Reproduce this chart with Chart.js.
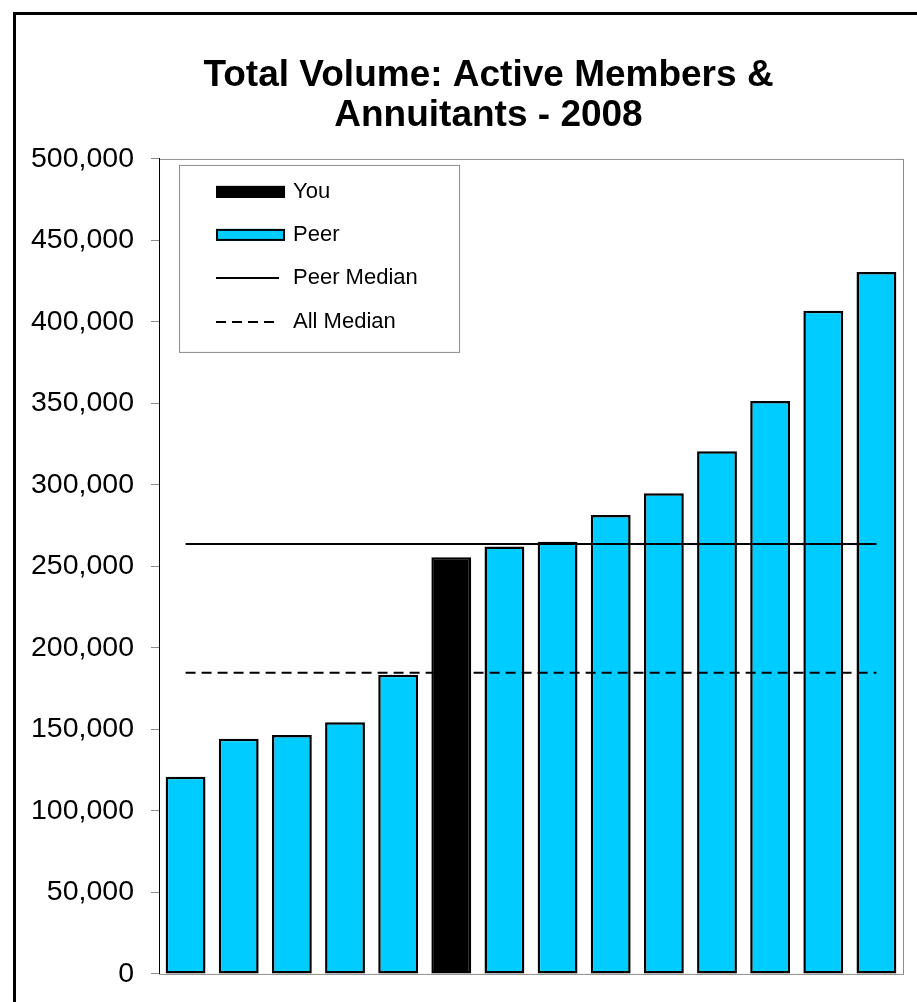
<!DOCTYPE html>
<html>
<head>
<meta charset="utf-8">
<script src="https://cdn.jsdelivr.net/npm/chart.js@4.4.1/dist/chart.umd.min.js"></script>
<style>
  html, body { margin: 0; padding: 0; background: #fff; overflow: hidden; }
  #wrap { position: relative; width: 917px; height: 1002px; overflow: hidden; }
  #chart { position: absolute; left: 0; top: 0; }
  #frame {
    position: absolute; left: 13px; top: 12px; width: 2000px; height: 2000px;
    border-left: 3px solid #000; border-top: 3px solid #000; pointer-events: none;
  }
</style>
</head>
<body>
<div id="wrap">
  <canvas id="chart" width="963" height="1008"></canvas>
  <div id="frame"></div>
</div>
<script>
const titleLines = ["Total Volume: Active Members &", "Annuitants - 2008"]
const categories = ["1", "2", "3", "4", "5", "6", "7", "8", "9", "10", "11", "12", "13", "14"]
const volumes = [121000, 144200, 146600, 154400, 183600, 255600, 262200, 265200, 281600, 294900, 320700, 351500, 406900, 430700]
const youIndex = 5
const peerMedian = 263800
const allMedian = 184700
const yTicks = [0, 50000, 100000, 150000, 200000, 250000, 300000, 350000, 400000, 450000, 500000]

const FONT = "'Liberation Sans', Arial, sans-serif"
const CYAN = '#00CCFF'

const youData = volumes.map((v, i) => i === youIndex ? v : null)
const peerData = volumes.map((v, i) => i === youIndex ? null : v)
const first = categories[0]
const last = categories[categories.length - 1]

// gray box round the plot area (top/right/bottom), axis drawn over it on the left
const plotFrame = {
  id: 'plotFrame',
  beforeDraw(chart) {
    const { ctx, chartArea: a } = chart
    ctx.save()
    ctx.strokeStyle = '#8c8c8c'
    ctx.lineWidth = 1
    ctx.strokeRect(a.left + 0.5, a.top + 0.5, a.right - a.left, a.bottom - a.top)
    ctx.restore()
  }
}

// legend box inside the plot, top-left
const boxLegend = {
  id: 'boxLegend',
  afterDraw(chart) {
    const { ctx, chartArea: a } = chart
    const bx = a.left + 20, by = a.top + 6, bw = 280, bh = 187
    ctx.save()
    ctx.fillStyle = '#fff'
    ctx.fillRect(bx, by, bw, bh)
    ctx.strokeStyle = '#8c8c8c'
    ctx.lineWidth = 1
    ctx.strokeRect(bx + 0.5, by + 0.5, bw, bh)

    const rows = [27, 70, 113, 157]
    const sx = bx + 37, sw = 69
    chart.data.datasets.forEach((ds, i) => {
      const y = by + rows[i]
      if (ds.type === 'bar') {
        ctx.fillStyle = ds.backgroundColor
        ctx.fillRect(sx, y - 6, sw, 12)
        ctx.strokeStyle = '#000'
        ctx.lineWidth = 2
        ctx.strokeRect(sx + 1, y - 5, sw - 2, 10)
      } else {
        ctx.strokeStyle = ds.borderColor
        ctx.lineWidth = 2
        ctx.setLineDash(ds.borderDash || [])
        ctx.beginPath()
        ctx.moveTo(sx, y)
        ctx.lineTo(sx + sw - 6, y)
        ctx.stroke()
        ctx.setLineDash([])
      }
      ctx.fillStyle = '#000'
      ctx.font = '22px ' + FONT
      ctx.textBaseline = 'middle'
      ctx.textAlign = 'left'
      ctx.fillText(ds.label, bx + 114, y)
    })
    ctx.restore()
  }
}

new Chart(document.getElementById('chart'), {
  data: {
    labels: categories,
    datasets: [
      {
        type: 'bar', label: 'You', data: youData, order: 1, grouped: false,
        backgroundColor: '#000', borderColor: '#000', borderWidth: 2.5, borderSkipped: false,
        categoryPercentage: 0.75, barPercentage: 1
      },
      {
        type: 'bar', label: 'Peer', data: peerData, order: 1, grouped: false,
        backgroundColor: CYAN, borderColor: '#000', borderWidth: 2.5, borderSkipped: false,
        categoryPercentage: 0.75, barPercentage: 1
      },
      {
        type: 'line', label: 'Peer Median', order: 0,
        data: [{ x: first, y: peerMedian }, { x: last, y: peerMedian }],
        borderColor: '#000', borderWidth: 2, pointRadius: 0, tension: 0
      },
      {
        type: 'line', label: 'All Median', order: 0,
        data: [{ x: first, y: allMedian }, { x: last, y: allMedian }],
        borderColor: '#000', borderWidth: 2, borderDash: [10, 6], pointRadius: 0, tension: 0
      }
    ]
  },
  options: {
    responsive: false,
    animation: false,
    layout: { padding: { left: 14, right: 0, top: 0, bottom: 0 } },
    plugins: {
      legend: { display: false },
      tooltip: { enabled: false },
      title: {
        display: true,
        text: titleLines,
        color: '#000',
        font: { family: FONT, size: 37, weight: 'bold', lineHeight: 1.08 },
        padding: { top: 56, bottom: 23 }
      }
    },
    scales: {
      x: { display: false, offset: true },
      y: {
        min: 0, max: 500000,
        afterBuildTicks: scale => { scale.ticks = yTicks.map(v => ({ value: v })) },
        border: { display: true, color: '#000', width: 1 },
        grid: { drawOnChartArea: false, drawTicks: true, tickLength: 8, color: '#8c8c8c' },
        ticks: {
          color: '#000', padding: 17,
          font: { family: FONT, size: 28.5 },
          callback: v => v.toLocaleString('en-US')
        }
      },
      // empty right-hand box, keeps the title centred the way the original is
      yRight: {
        type: 'linear', position: 'right', display: true,
        grid: { display: false }, border: { display: false }, ticks: { display: false },
        afterFit: scale => { scale.width = 60 }
      }
    }
  },
  plugins: [plotFrame, boxLegend]
})
</script>
</body>
</html>
